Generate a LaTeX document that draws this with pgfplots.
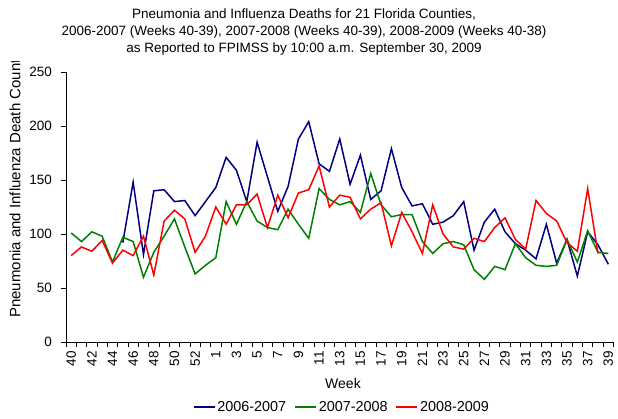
\documentclass[border=0pt]{standalone}
\usepackage{pgfplots}
\pgfplotsset{compat=1.18}
\usepackage{fontspec}
\setmainfont{Liberation Sans}
\definecolor{navyb}{RGB}{0,0,128}
\definecolor{greenb}{RGB}{0,128,0}
\definecolor{redb}{RGB}{255,0,0}
\begin{document}
\fontsize{13.3bp}{16bp}\selectfont
\begin{tikzpicture}
\useasboundingbox (0,0) rectangle (618bp,419bp);
\begin{scope}[font=\fontsize{13.5bp}{16bp}\selectfont]
\node[anchor=base] at (304bp,400bp) {Pneumonia and Influenza Deaths for 21 Florida Counties,};
\node[anchor=base] at (304bp,383bp) {2006-2007 (Weeks 40-39), 2007-2008 (Weeks 40-39), 2008-2009 (Weeks 40-38)};
\node[anchor=base] at (304bp,366bp) {as Reported to FPIMSS by 10:00 a.m. September 30, 2009};
\end{scope}
\begin{scope}
\clip (0,0) rectangle (40bp,357bp);
\node[rotate=90, anchor=west, inner sep=0pt, font=\fontsize{15bp}{18bp}\selectfont] at (15bp,101bp) {Pneumonia and Influenza Death Count};
\end{scope}
\node[font=\fontsize{14bp}{16bp}\selectfont] at (343bp,36bp) {Week};
\begin{axis}[
  at={(66bp,77bp)}, anchor=south west, scale only axis,
  width=547.5bp, height=270bp,
  xmin=-0.5, xmax=52.5, ymin=0, ymax=250,
  axis x line*=bottom, axis y line*=left,
  axis line style={line width=0.8bp},
  ytick={0,50,...,250},
  xtick={0,2,...,52},
  xticklabels={40,42,44,46,48,50,52,1,3,5,7,9,11,13,15,17,19,21,23,25,27,29,31,33,35,37,39},
  minor xtick={-0.5,0.5,...,52.5},
  tick align=outside,
  major tick length=5bp, minor tick length=5bp,
  major x tick style={draw=none},
  every tick/.style={line width=0.8bp, black},
  minor x tick style={line width=0.8bp, black},
  /pgf/number format/assume math mode=true,
  tick label style={font=\fontsize{13.5bp}{16bp}\selectfont},
  yticklabel style={anchor=east, inner sep=0pt, xshift=-9bp},
  xticklabel style={rotate=90, anchor=east, inner xsep=0pt, inner ysep=0pt, xshift=-4bp},
  legend columns=3,
  legend style={at={(0.504,-0.2407)}, anchor=center, draw=none, fill=none,
    font=\fontsize{14.4bp}{16bp}\selectfont,
    /tikz/every even column/.append style={column sep=6bp}},
  legend image code/.code={\draw[#1] (0bp,0bp) -- (21bp,0bp);},
]
\addplot[navyb, line width=1.5bp] coordinates {(5,92)(6,148)(7,81)(8,140)(9,141)(10,130)(11,131)(12,117)(13,130)(14,143)(15,171)(16,159)(17,130)(18,185)(19,153)(20,121)(21,144)(22,188)(23,204)(24,165)(25,158)(26,188)(27,146)(28,173)(29,132)(30,140)(31,179)(32,143)(33,126)(34,128)(35,109)(36,111)(37,117)(38,130)(39,85)(40,111)(41,123)(42,102)(43,91)(44,85)(45,77)(46,109)(47,73)(48,95)(49,61)(50,102)(51,90)(52,72)};
\addlegendentry{2006-2007}
\addplot[greenb, line width=1.5bp] coordinates {(0,101)(1,93)(2,102)(3,98)(4,74)(5,97)(6,93)(7,60)(8,83)(9,98)(10,114)(11,88)(12,63)(13,71)(14,78)(15,130)(16,109)(17,130)(18,112)(19,106)(20,104)(21,123)(22,109)(23,96)(24,142)(25,132)(26,127)(27,130)(28,120)(29,156)(30,127)(31,116)(32,118)(33,118)(34,93)(35,82)(36,91)(37,93)(38,90)(39,67)(40,58)(41,70)(42,67)(43,91)(44,78)(45,71)(46,70)(47,71)(48,95)(49,74)(50,103)(51,83)(52,82)};
\addlegendentry{2007-2008}
\addplot[redb, line width=1.5bp] coordinates {(0,80)(1,88)(2,84)(3,94)(4,73)(5,85)(6,80)(7,98)(8,62)(9,112)(10,122)(11,114)(12,83)(13,98)(14,125)(15,109)(16,127)(17,127)(18,137)(19,106)(20,136)(21,115)(22,138)(23,141)(24,163)(25,125)(26,136)(27,134)(28,114)(29,123)(30,129)(31,89)(32,120)(33,102)(34,82)(35,127)(36,100)(37,88)(38,86)(39,96)(40,93)(41,106)(42,115)(43,95)(44,86)(45,131)(46,119)(47,112)(48,92)(49,84)(50,142)(51,82)};
\addlegendentry{2008-2009}
\end{axis}
\end{tikzpicture}
\end{document}
